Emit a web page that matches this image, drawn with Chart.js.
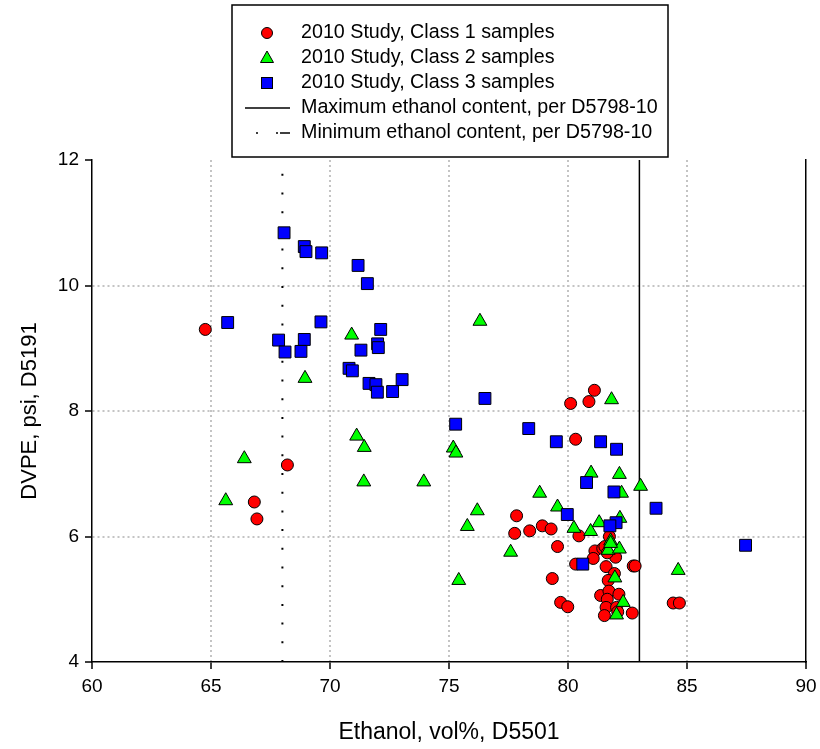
<!DOCTYPE html>
<html>
<head>
<meta charset="utf-8">
<script src="https://cdn.jsdelivr.net/npm/chart.js@4.4.1/dist/chart.umd.min.js"></script>
<style>
  html, body { margin: 0; padding: 0; background: #fff; }
</style>
</head>
<body>
<canvas id="myChart" width="820" height="749"></canvas>
<script>
// ethanol (vol%) and DVPE (psi)
var class1Ethanol = [64.76, 68.21, 66.82, 66.93, 81.11, 80.11, 80.88, 80.32, 77.84, 78.92, 79.29, 78.39, 77.76, 80.46,
  79.56, 81.13, 81.46, 81.55, 81.74, 81.06, 82.0, 81.65, 80.32, 81.60, 82.74, 82.82, 81.95, 81.69, 79.34, 81.37,
  81.72, 82.14, 81.65, 79.69, 79.99, 81.60, 82.04, 82.09, 81.53, 82.70, 84.42, 84.68];
var class1Dvpe = [9.30, 7.14, 6.55, 6.28, 8.33, 8.12, 8.15, 7.55, 6.33, 6.17, 6.12, 6.09, 6.05, 6.01,
  5.84, 5.77, 5.81, 5.84, 6.00, 5.65, 5.67, 5.74, 5.56, 5.52, 5.53, 5.53, 5.41, 5.30, 5.33, 5.06,
  5.13, 5.08, 5.00, 4.95, 4.88, 4.87, 4.87, 4.80, 4.74, 4.78, 4.94, 4.94];

var class2Ethanol = [70.91, 68.95, 76.30, 81.83, 80.97, 82.16, 83.05, 82.25, 78.81, 79.56, 81.31, 82.18, 80.25, 80.95,
  81.79, 81.69, 82.16, 81.97, 84.63, 82.32, 82.04, 77.59, 66.40, 65.62, 71.12, 71.44, 71.42, 73.94, 75.18, 75.29,
  76.19, 75.77, 75.41, 81.79];
var class2Dvpe = [9.21, 8.52, 9.43, 8.18, 7.01, 6.99, 6.80, 6.69, 6.69, 6.47, 6.22, 6.29, 6.13, 6.08,
  5.93, 5.78, 5.80, 5.34, 5.46, 4.95, 4.75, 5.75, 7.24, 6.57, 7.60, 7.42, 6.87, 6.87, 7.41, 7.33,
  6.41, 6.16, 5.30, 5.89];

var class3Ethanol = [68.07, 68.92, 68.99, 69.65, 65.70, 69.62, 67.84, 68.92, 68.11, 68.78, 71.18, 71.57, 72.13, 72.0,
  72.03, 71.30, 70.80, 70.94, 71.64, 71.93, 71.99, 72.63, 73.03, 76.51, 75.28, 78.35, 79.51, 81.37, 82.04, 80.78,
  81.93, 83.70, 79.97, 82.02, 81.76, 80.62, 87.46];
var class3Dvpe = [10.84, 10.62, 10.54, 10.52, 9.41, 9.42, 9.13, 9.14, 8.94, 8.95, 10.32, 10.03, 9.30, 9.07,
  9.01, 8.97, 8.68, 8.64, 8.44, 8.42, 8.30, 8.31, 8.50, 8.20, 7.79, 7.72, 7.51, 7.51, 7.39, 6.86,
  6.71, 6.45, 6.35, 6.22, 6.17, 5.56, 5.86];

var maxEthanol = 83;   // D5798-10 upper limit
var minEthanol = 68;   // D5798-10 lower limit

var xTicks = [60, 65, 70, 75, 80, 85, 90];
var yTicks = [4, 6, 8, 10, 12];

function pts(xs, ys) {
  var out = [];
  for (var i = 0; i < xs.length; i++) out.push({x: xs[i], y: ys[i]});
  return out;
}
function vline(v) {
  return [{x: v, y: yTicks[0]}, {x: v, y: yTicks[yTicks.length - 1]}];
}

var FONT = "'Liberation Sans', Arial, sans-serif";

// legend in a framed box above the plot
var boxLegend = {
  id: 'boxLegend',
  afterDraw: function(chart) {
    var ctx = chart.ctx;
    var ds = chart.data.datasets;
    var left = 232, top = 5, w = 436, h = 152;
    ctx.save();
    ctx.fillStyle = '#fff';
    ctx.fillRect(left, top, w, h);
    ctx.strokeStyle = '#000';
    ctx.lineWidth = 1.5;
    ctx.strokeRect(left, top, w, h);

    ctx.font = '19.7px ' + FONT;
    ctx.textBaseline = 'middle';
    ctx.textAlign = 'left';
    for (var i = 0; i < ds.length; i++) {
      var y = top + 28 + i * 25;
      var mx = left + 35;
      var d = ds[i];
      ctx.fillStyle = d.backgroundColor;
      ctx.strokeStyle = '#000';
      ctx.lineWidth = 1;
      ctx.setLineDash([]);
      if (d.pointStyle === 'circle' && d.showLine !== true) {
        ctx.beginPath(); ctx.arc(mx, y, 5.5, 0, Math.PI * 2); ctx.fill(); ctx.stroke();
      } else if (d.pointStyle === 'triangle') {
        ctx.beginPath();
        ctx.moveTo(mx, y - 7); ctx.lineTo(mx + 6.5, y + 4.5); ctx.lineTo(mx - 6.5, y + 4.5); ctx.closePath();
        ctx.fill(); ctx.stroke();
      } else if (d.pointStyle === 'rect') {
        ctx.fillRect(mx - 5.5, y - 5.5, 11, 11); ctx.strokeRect(mx - 5.5, y - 5.5, 11, 11);
      } else {
        ctx.strokeStyle = '#000';
        ctx.lineWidth = 1.3;
        ctx.beginPath();
        if (d.borderDash && d.borderDash.length) {
          ctx.moveTo(left + 24, y); ctx.lineTo(left + 26, y);
          ctx.moveTo(left + 44, y); ctx.lineTo(left + 46, y);
          ctx.moveTo(left + 48, y); ctx.lineTo(left + 58, y);
        } else {
          ctx.moveTo(left + 13, y); ctx.lineTo(left + 58, y);
        }
        ctx.stroke();
      }
      ctx.fillStyle = '#000';
      ctx.fillText(d.label, left + 69, y);
    }
    ctx.restore();
  }
};

var gridColor = function(edgeA, edgeB) {
  return function(c) {
    if (c.tick && (c.tick.value === edgeA || c.tick.value === edgeB)) return 'rgba(0,0,0,0)';
    return '#c4c4c4';
  };
};

var chart = new Chart(document.getElementById('myChart'), {
  type: 'scatter',
  data: {
    datasets: [
      {
        label: '2010 Study, Class 1 samples',
        data: pts(class1Ethanol, class1Dvpe),
        pointStyle: 'circle',
        pointRadius: 6,
        backgroundColor: '#ff0000',
        borderColor: '#000',
        borderWidth: 1,
        order: 3
      },
      {
        label: '2010 Study, Class 2 samples',
        data: pts(class2Ethanol, class2Dvpe),
        pointStyle: 'triangle',
        pointRadius: 8,
        backgroundColor: '#00ff00',
        borderColor: '#000',
        borderWidth: 1,
        order: 2
      },
      {
        label: '2010 Study, Class 3 samples',
        data: pts(class3Ethanol, class3Dvpe),
        pointStyle: 'rect',
        pointRadius: 8.4,
        backgroundColor: '#0000ff',
        borderColor: '#000',
        borderWidth: 1,
        order: 1
      },
      {
        label: 'Maximum ethanol content, per D5798-10',
        data: vline(maxEthanol),
        showLine: true,
        pointRadius: 0,
        borderColor: '#000',
        backgroundColor: '#000',
        borderWidth: 1.5,
        order: 5
      },
      {
        label: 'Minimum ethanol content, per D5798-10',
        data: vline(minEthanol),
        showLine: true,
        pointRadius: 0,
        borderColor: '#000',
        backgroundColor: '#000',
        borderWidth: 2,
        borderDash: [2, 16.7],
        order: 4
      }
    ]
  },
  options: {
    responsive: false,
    animation: false,
    layout: { padding: { top: 160, left: 0, right: 0, bottom: 0 } },
    plugins: {
      legend: { display: false },
      tooltip: { enabled: false }
    },
    scales: {
      x: {
        type: 'linear',
        min: xTicks[0],
        max: xTicks[xTicks.length - 1],
        afterBuildTicks: function(s) { s.ticks = xTicks.map(function(v) { return {value: v}; }); },
        afterFit: function(s) { s.height = 87; },
        grid: { color: gridColor(60, 90), lineWidth: 2, tickColor: '#000', tickLength: 7, tickWidth: 1.5 },
        border: { color: '#000', width: 1.5, dash: [2, 3] },
        ticks: { color: '#000', font: { family: FONT, size: 19, lineHeight: 1.6 }, padding: 3 },
        title: { display: true, text: 'Ethanol, vol%, D5501', color: '#000',
                 font: { family: FONT, size: 23 }, padding: { top: 0, bottom: 3 } }
      },
      y: {
        type: 'linear',
        min: yTicks[0],
        max: yTicks[yTicks.length - 1],
        afterBuildTicks: function(s) { s.ticks = yTicks.map(function(v) { return {value: v}; }); },
        afterFit: function(s) { s.width = 92; },
        grid: { color: gridColor(4, 12), lineWidth: 2, tickColor: '#000', tickLength: 7, tickWidth: 1.5 },
        border: { color: '#000', width: 1.5, dash: [2, 3] },
        ticks: { color: '#000', font: { family: FONT, size: 19 }, padding: 6 },
        title: { display: true, text: 'DVPE, psi, D5191', color: '#000',
                 font: { family: FONT, size: 22 }, padding: { top: 17, bottom: 0 } }
      },
      yRight: {
        type: 'linear',
        position: 'right',
        min: yTicks[0],
        max: yTicks[yTicks.length - 1],
        afterFit: function(s) { s.width = 14; },
        grid: { display: false, drawTicks: false },
        border: { display: true, color: '#000', width: 1.5 },
        ticks: { display: false }
      }
    }
  },
  plugins: [boxLegend]
});
</script>
</body>
</html>
